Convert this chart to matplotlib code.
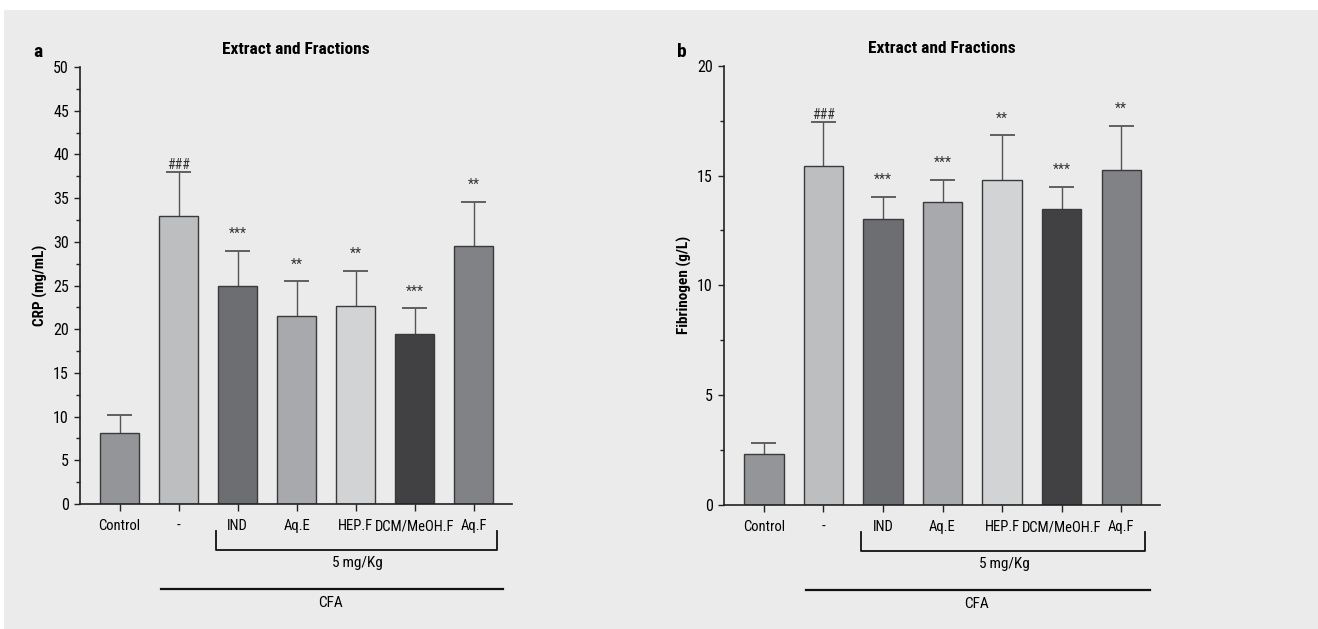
import numpy as np
import matplotlib.pyplot as plt
from matplotlib.patches import Rectangle

plt.rcParams['font.family'] = ['Roboto Condensed', 'Liberation Sans Narrow', 'DejaVu Sans']
plt.rcParams['font.stretch'] = 'condensed'

# data
groups = ['Control', '-', 'IND', 'Aq.E', 'HEP.F', 'DCM/MeOH.F', 'Aq.F']
crp_mean = [8.1, 33.0, 25.0, 21.5, 22.6, 19.4, 29.5]
crp_err = [2.05, 5.0, 4.0, 4.0, 4.1, 3.0, 5.1]
crp_sig = ['', '###', '***', '**', '**', '***', '**']
fib_mean = [2.31, 15.43, 13.02, 13.79, 14.82, 13.46, 15.25]
fib_err = [0.5, 1.99, 1.01, 1.02, 2.02, 1.03, 2.01]
fib_sig = ['', '###', '***', '***', '**', '***', '**']
bar_colors = ['#939598', '#bcbec0', '#6d6e71', '#a7a9ac', '#d1d3d4', '#414042', '#808285']

fig = plt.figure(figsize=(13.18, 6.29), dpi=100)
fig.patches.append(Rectangle((4 / 1318, 0), 1, (629 - 10) / 629, transform=fig.transFigure,
                             facecolor='#ebebeb', edgecolor='none', zorder=-10))

ax1 = fig.add_axes([0.0607, 0.1987, 0.3278, 0.6948])
ax2 = fig.add_axes([0.5493, 0.1971, 0.3308, 0.6984])


def draw_panel(ax, means, errs, sigs, ymax, major, ylabel, letter, letter_x):
    x = np.arange(len(groups))
    means = np.array(means)
    tops = means + np.array(errs)
    ax.set_facecolor('none')
    ax.bar(x, means, width=0.66, color=bar_colors, edgecolor='#3a3a3a', linewidth=1.0, zorder=2)
    # upper error bars only
    ax.vlines(x, means, tops, color='#555555', linewidth=1.0, zorder=1)
    ax.hlines(tops, x - 0.21, x + 0.21, color='#555555', linewidth=1.3, zorder=1)
    for xi, t, s in zip(x, tops, sigs):
        if not s:
            continue
        off = 5 if s == '###' else 12
        ax.annotate(s, (xi, t), xytext=(0, off), textcoords='offset points',
                    ha='center', va='center', fontsize=10, color='#333333')
    ax.set_xlim(-0.67, 6.65)
    ax.set_ylim(0, ymax)
    ax.set_yticks(np.arange(0, ymax + 0.1, major))
    ax.set_yticks(np.arange(0, ymax + 0.1, major / 2), minor=True)
    ax.set_xticks(x)
    ax.set_xticklabels(groups)
    for sp in ['top', 'right']:
        ax.spines[sp].set_visible(False)
    for sp in ['left', 'bottom']:
        ax.spines[sp].set_linewidth(1.2)
        ax.spines[sp].set_color('#222222')
    ax.tick_params(axis='y', which='major', length=4, width=1, labelsize=11.5, color='#222222', pad=4)
    ax.tick_params(axis='y', which='minor', length=3, width=1, color='#222222')
    ax.tick_params(axis='x', length=5, width=1, labelsize=10.5, color='#222222', pad=6)
    ax.set_ylabel(ylabel, fontsize=11, fontweight='bold', labelpad=4)
    ax.set_title('Extract and Fractions', fontsize=12.5, fontweight='bold', pad=9)

    tr = ax.get_xaxis_transform()
    ax.plot([1.63, 1.63, 6.40, 6.40], [-0.062, -0.105, -0.105, -0.062], color='#111111',
            linewidth=1.3, transform=tr, clip_on=False)
    ax.text(4.03, -0.135, '5\u2009mg/Kg', transform=tr, ha='center', va='center', fontsize=11)
    ax.plot([0.71, 6.49], [-0.194, -0.194], color='#111111', linewidth=1.6,
            transform=tr, clip_on=False)
    ax.text(3.57, -0.226, 'CFA', transform=tr, ha='center', va='center', fontsize=11)
    fig.text(letter_x, 1 - 52 / 629, letter, fontsize=14, fontweight='bold', ha='center', va='center')


draw_panel(ax1, crp_mean, crp_err, crp_sig, 50, 5, 'CRP (mg/mL)', 'a', 38 / 1318)
draw_panel(ax2, fib_mean, fib_err, fib_sig, 20, 5, 'Fibrinogen (g/L)', 'b', 682 / 1318)

fig.savefig('out.png', dpi=100, facecolor='white')
